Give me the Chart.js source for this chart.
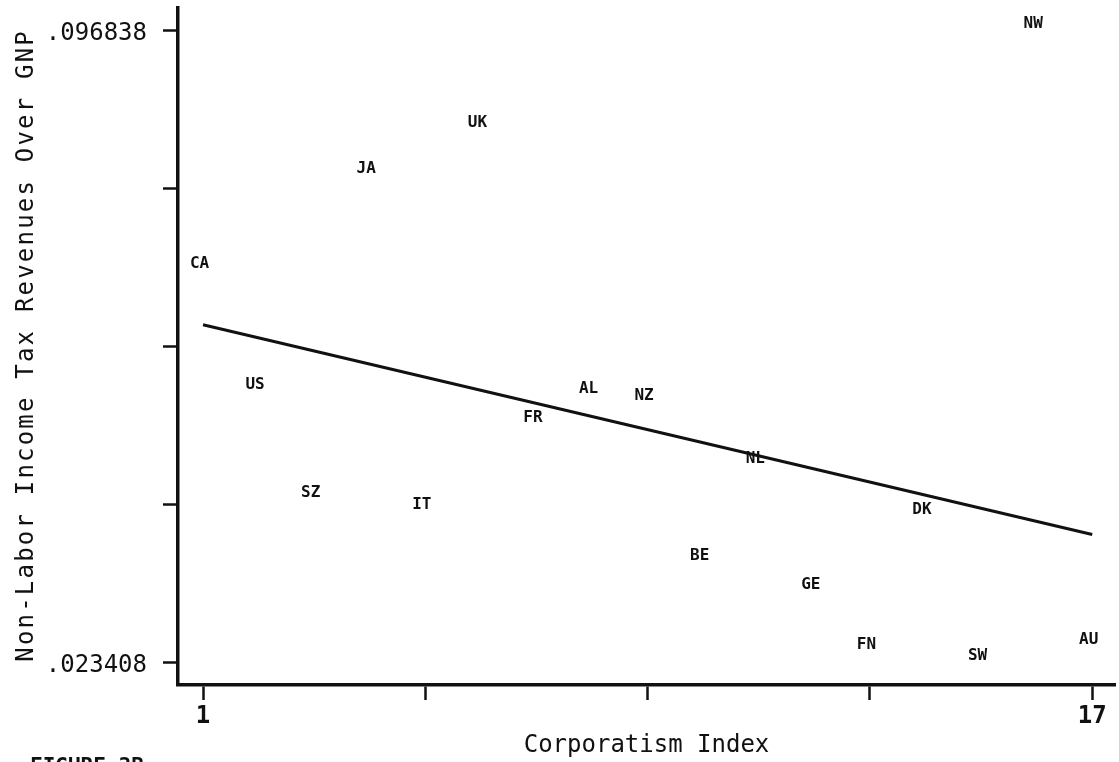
<!DOCTYPE html>
<html>
<head>
<meta charset="utf-8">
<script src="https://cdn.jsdelivr.net/npm/chart.js@4.4.1/dist/chart.umd.min.js"></script>
<style>
  html, body { margin: 0; padding: 0; background: #fff; }
  #wrap { width: 1119px; height: 762px; position: relative; }
</style>
</head>
<body>
<div id="wrap"><canvas id="c" width="1119" height="762"></canvas></div>
<script>
// Country codes, corporatism rank and non-labor income tax revenue share of GNP
const countries = ['CA','US','SZ','JA','IT','UK','FR','AL','NZ','BE','NL','GE','FN','DK','SW','NW','AU'];
const corporatism = [1, 2, 3, 4, 5, 6, 7, 8, 9, 10, 11, 12, 13, 14, 15, 16, 17];
const revenueShare = [0.06901, 0.05490, 0.04241, 0.08005, 0.04095, 0.08540, 0.05106, 0.05449,
                      0.05362, 0.03503, 0.04630, 0.03166, 0.02469, 0.04037, 0.023408, 0.096838, 0.02527];

// Fitted regression line (value at each end of the index range)
const fitX = [1, 17];
const fitY = [0.06259, 0.03823];

// Axis ticks: only the extremes carry labels
const yTickValues = [0.023408, 0.0417655, 0.060123, 0.0784805, 0.096838];
const yTickLabels = ['.023408', '', '', '', '.096838'];
const xTickValues = [1, 5, 9, 13, 17];
const xTickLabels = ['1', '', '', '', '17'];

const xTitle = 'Corporatism Index';
const yTitle = 'Non-Labor Income Tax Revenues Over GNP';
const caption = 'FIGURE 3B';

const INK = '#111';
const MONO = "'DejaVu Sans Mono', 'Liberation Mono', monospace";

// Country codes are drawn as the plotting symbols
const countryLabels = {
  id: 'countryLabels',
  afterDatasetsDraw(chart) {
    const ctx = chart.ctx;
    const meta = chart.getDatasetMeta(1);
    ctx.save();
    ctx.font = 'bold 16px ' + MONO;
    ctx.fillStyle = INK;
    ctx.textAlign = 'center';
    ctx.textBaseline = 'middle';
    meta.data.forEach((pt, i) => {
      ctx.fillText(countries[i], pt.x - 3.5, pt.y - 6);
    });
    ctx.restore();
  }
};

// Spaced, rotated y-axis title and the figure caption below the plot
const extraText = {
  id: 'extraText',
  afterDraw(chart) {
    const ctx = chart.ctx;
    const area = chart.chartArea;
    ctx.save();
    ctx.fillStyle = INK;
    ctx.font = '24px ' + MONO;
    const spacing = 2.2;
    ctx.letterSpacing = spacing + 'px';
    const w = ctx.measureText(yTitle).width - spacing;
    const cy = (area.top + area.bottom) / 2;
    ctx.translate(33, cy);
    ctx.rotate(-Math.PI / 2);
    ctx.textAlign = 'left';
    ctx.textBaseline = 'alphabetic';
    ctx.fillText(yTitle, -w / 2, 0);
    ctx.restore();

    ctx.save();
    ctx.fillStyle = INK;
    ctx.font = 'bold 21px ' + MONO;
    ctx.textAlign = 'left';
    ctx.textBaseline = 'alphabetic';
    ctx.fillText(caption, 30, 773);
    ctx.restore();
  }
};

new Chart(document.getElementById('c'), {
  type: 'scatter',
  data: {
    datasets: [
      {
        type: 'line',
        data: fitX.map((x, i) => ({ x: x, y: fitY[i] })),
        borderColor: INK,
        borderWidth: 3,
        pointRadius: 0,
        fill: false,
        tension: 0
      },
      {
        data: corporatism.map((x, i) => ({ x: x, y: revenueShare[i] })),
        pointRadius: 0,
        pointHoverRadius: 0,
        showLine: false
      }
    ]
  },
  options: {
    responsive: false,
    animation: false,
    devicePixelRatio: 1,
    events: [],
    layout: { padding: { top: 8, right: 4, left: 0, bottom: 0 } },
    plugins: { legend: { display: false }, tooltip: { enabled: false } },
    scales: {
      x: {
        type: 'linear',
        min: 0.55,
        max: 17.41,
        afterFit(scale) {
          scale.height = 77;
          scale.paddingLeft = 0;
          scale.paddingRight = 0;
        },
        afterBuildTicks(scale) { scale.ticks = xTickValues.map(v => ({ value: v })); },
        border: { display: true, color: INK, width: 3.5 },
        grid: { drawOnChartArea: false, drawTicks: true, tickLength: 15, tickWidth: 2.5, tickColor: INK },
        ticks: {
          autoSkip: false,
          maxRotation: 0,
          padding: 2,
          color: INK,
          font: { family: MONO, size: 24, weight: 'bold' },
          callback: (v, i) => xTickLabels[i]
        },
        title: {
          display: true,
          text: xTitle,
          color: INK,
          font: { family: MONO, size: 24 },
          padding: { top: 0, bottom: 2 }
        }
      },
      y: {
        type: 'linear',
        min: 0.020736,
        max: 0.09940,
        afterFit(scale) {
          scale.width = 178;
          scale.paddingTop = 0;
          scale.paddingBottom = 0;
        },
        afterBuildTicks(scale) { scale.ticks = yTickValues.map(v => ({ value: v })); },
        border: { display: true, color: INK, width: 3.5 },
        grid: { drawOnChartArea: false, drawTicks: true, tickLength: 15, tickWidth: 2.5, tickColor: INK },
        ticks: {
          autoSkip: false,
          padding: 16,
          labelOffset: 4,
          color: INK,
          font: { family: MONO, size: 24 },
          callback: (v, i) => yTickLabels[i]
        }
      }
    }
  },
  plugins: [countryLabels, extraText]
});
</script>
</body>
</html>
